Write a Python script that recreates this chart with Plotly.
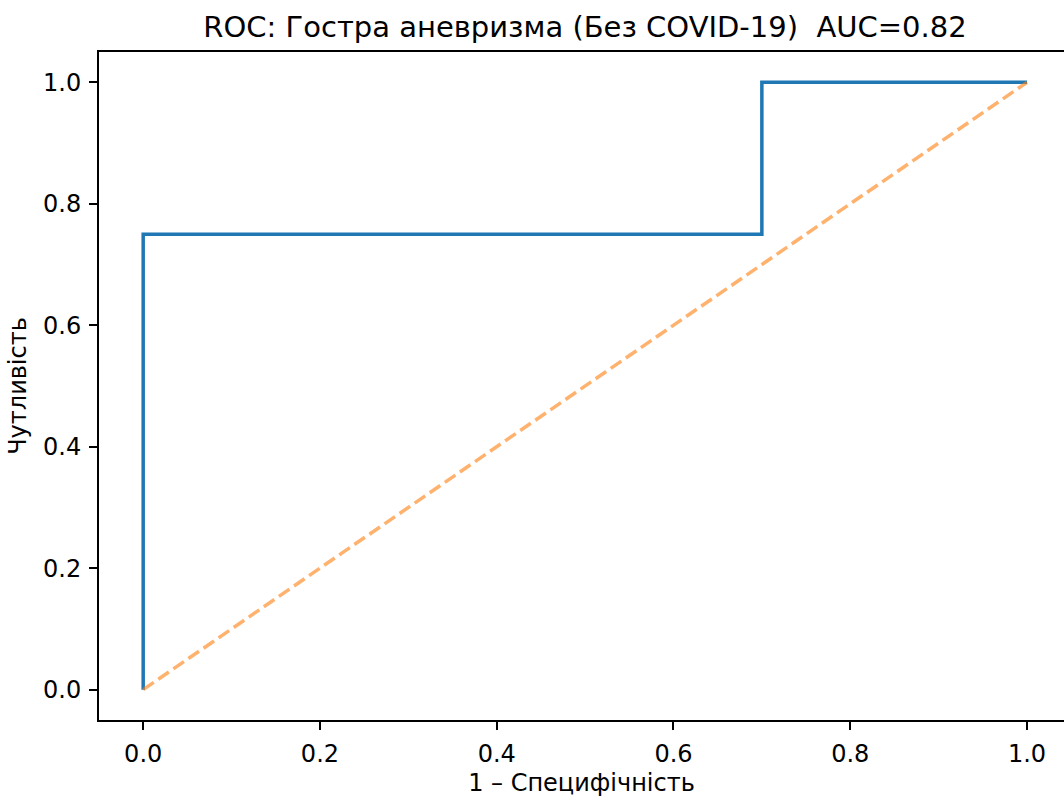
import plotly.graph_objects as go

# ROC curve points (false positive rate, true positive rate)
fpr = [0.0, 0.0, 0.7, 0.7, 1.0]
tpr = [0.0, 0.75, 0.75, 1.0, 1.0]
diag = [0.0, 1.0]
auc_value = 0.82
tick_vals = [0.0, 0.2, 0.4, 0.6, 0.8, 1.0]
tick_text = ["0.0", "0.2", "0.4", "0.6", "0.8", "1.0"]

font = "DejaVu Sans"

fig = go.Figure()
fig.add_trace(go.Scatter(
    x=fpr, y=tpr, mode="lines",
    line=dict(color="#1f77b4", width=3.5, shape="linear"),
    showlegend=False, hoverinfo="skip",
))
fig.add_trace(go.Scatter(
    x=diag, y=diag, mode="lines",
    line=dict(color="rgba(255,127,14,0.6)", width=3.5, dash="12.8px,5.5px"),
    showlegend=False, hoverinfo="skip",
))

axis_common = dict(
    showgrid=False, zeroline=False,
    showline=True, linecolor="black", linewidth=2,
    ticks="outside", ticklen=8, tickwidth=2, tickcolor="black",
    tickvals=tick_vals, ticktext=tick_text,
    tickfont=dict(family=font, size=24, color="black"),
)

fig.update_layout(
    width=1064, height=797,
    margin=dict(l=99, r=0, t=52, b=77),
    paper_bgcolor="white", plot_bgcolor="white",
    title=dict(
        text=f"ROC: Гостра аневризма (Без COVID-19)  AUC={auc_value:.2f}",
        font=dict(family=font, size=29, color="black"),
        x=585 / 1064, xanchor="center", y=1 - 27 / 797, yanchor="middle",
    ),
    xaxis=dict(
        range=[-0.05, (1064 - 143) / 884],
        mirror=True,
        title=dict(text="1 – Специфічність", font=dict(family=font, size=24, color="black"), standoff=10),
        ticklabelstandoff=3,
        **axis_common,
    ),
    yaxis=dict(
        range=[-0.05, 1.05],
        title=dict(text="Чутливість", font=dict(family=font, size=24, color="black"), standoff=10),
        ticklabelstandoff=3,
        **axis_common,
    ),
)

fig.write_html("out.html")
